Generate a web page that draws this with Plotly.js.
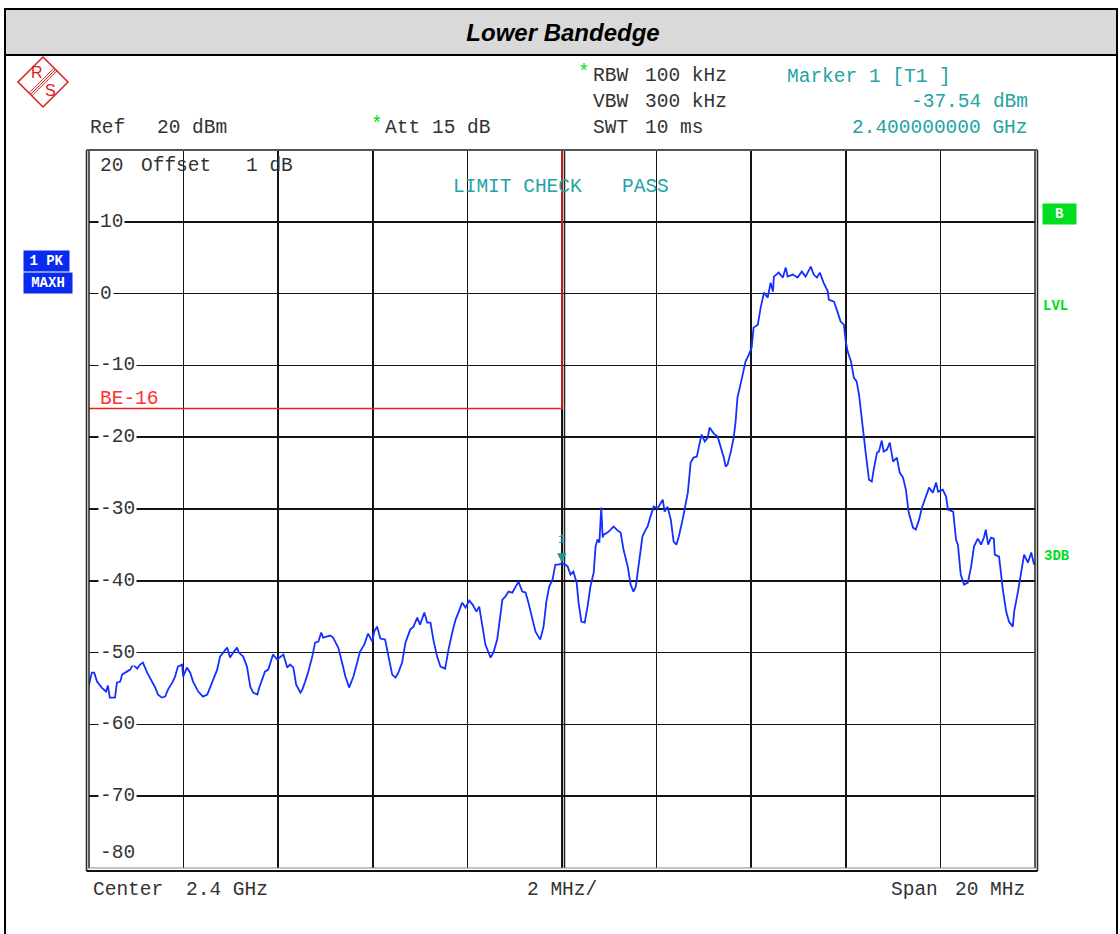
<!DOCTYPE html>
<html><head><meta charset="utf-8">
<script src="https://cdn.plot.ly/plotly-3.0.1.min.js"></script>
<style>html,body{margin:0;padding:0;background:#fff}#chart{width:1120px;height:934px}</style>
</head><body><div id="chart"></div>
<script>
const freqOffsetMHz = [
-10.00,-9.94,-9.89,-9.83,-9.73,-9.64,-9.60,-9.56,-9.45,-9.41,-9.34,-9.30,-9.20,-9.13,-9.07,-8.98,-8.92,-8.86,-8.77,-8.67,
-8.60,-8.54,-8.46,-8.39,-8.33,-8.24,-8.18,-8.12,-8.03,-8.01,-7.93,-7.86,-7.80,-7.69,-7.59,-7.50,-7.44,-7.38,-7.29,-7.23,
-7.16,-7.08,-7.06,-7.02,-6.95,-6.87,-6.83,-6.74,-6.66,-6.59,-6.53,-6.44,-6.40,-6.34,-6.28,-6.21,-6.15,-6.11,-6.02,-5.96,
-5.89,-5.81,-5.75,-5.68,-5.62,-5.53,-5.49,-5.43,-5.37,-5.28,-5.22,-5.15,-5.09,-5.05,-4.96,-4.90,-4.84,-4.73,-4.65,-4.58,
-4.50,-4.41,-4.33,-4.27,-4.18,-4.10,-4.01,-3.97,-3.91,-3.84,-3.74,-3.67,-3.59,-3.52,-3.46,-3.38,-3.31,-3.21,-3.14,-3.06,
-3.00,-2.91,-2.85,-2.78,-2.72,-2.64,-2.57,-2.47,-2.40,-2.32,-2.25,-2.19,-2.11,-2.04,-1.96,-1.89,-1.81,-1.75,-1.68,-1.62,
-1.51,-1.45,-1.37,-1.30,-1.26,-1.20,-1.13,-1.05,-0.98,-0.92,-0.84,-0.77,-0.71,-0.62,-0.56,-0.46,-0.39,-0.33,-0.27,-0.20,
-0.14,-0.07,0.00,0.07,0.12,0.18,0.24,0.31,0.35,0.41,0.48,0.54,0.60,0.67,0.71,0.75,0.79,0.83,0.86,0.88,
0.96,1.03,1.09,1.18,1.24,1.30,1.39,1.45,1.51,1.56,1.62,1.70,1.77,1.81,1.87,1.94,2.02,2.09,2.13,2.17,
2.23,2.30,2.36,2.42,2.47,2.55,2.61,2.66,2.72,2.78,2.85,2.89,2.95,3.02,3.08,3.12,3.21,3.29,3.33,3.42,
3.46,3.50,3.57,3.63,3.67,3.71,3.82,3.88,3.95,4.01,4.05,4.14,4.20,4.27,4.35,4.41,4.46,4.48,4.58,4.67,
4.73,4.77,4.88,4.98,5.07,5.15,5.26,5.32,5.39,5.45,5.53,5.62,5.64,5.75,5.83,5.89,5.96,6.00,6.04,6.11,
6.17,6.23,6.28,6.36,6.42,6.49,6.55,6.59,6.66,6.70,6.76,6.80,6.87,6.93,7.00,7.08,7.14,7.21,7.27,7.33,
7.42,7.48,7.55,7.61,7.67,7.76,7.84,7.91,7.95,8.05,8.12,8.16,8.27,8.33,8.37,8.43,8.50,8.58,8.65,8.71,
8.79,8.86,8.92,8.96,9.01,9.07,9.13,9.15,9.24,9.32,9.39,9.45,9.53,9.56,9.64,9.70,9.77,9.85,9.92,9.98,
10.00];
const levelDbm = [
-54.46,-52.79,-52.79,-54.04,-54.87,-55.43,-54.60,-56.27,-56.27,-54.18,-54.04,-53.06,-52.65,-52.37,-51.67,-52.23,-51.67,-51.39,-52.79,-54.04,
-54.87,-55.85,-56.27,-56.13,-55.15,-54.18,-53.34,-51.95,-51.67,-53.34,-52.09,-52.79,-54.04,-55.43,-56.13,-55.85,-54.87,-53.76,-52.37,-50.56,
-50.00,-49.30,-49.72,-50.70,-50.00,-49.30,-50.00,-50.56,-51.95,-54.74,-55.57,-55.85,-54.87,-53.76,-52.65,-52.37,-51.25,-50.28,-50.97,-50.70,
-50.28,-52.09,-51.67,-52.09,-54.46,-55.57,-55.15,-54.04,-52.79,-50.56,-48.61,-48.47,-47.21,-47.91,-47.77,-47.63,-47.91,-49.30,-51.39,-53.34,
-54.87,-53.34,-51.39,-49.86,-48.89,-47.35,-48.47,-47.08,-46.38,-48.05,-48.19,-50.70,-53.06,-53.48,-52.79,-51.39,-48.61,-46.80,-46.38,-45.13,
-46.10,-44.43,-45.82,-45.82,-48.19,-50.56,-51.95,-52.23,-49.58,-47.21,-45.40,-44.43,-43.04,-43.73,-42.76,-43.31,-44.29,-43.59,-46.38,-48.89,
-50.70,-50.00,-48.19,-44.43,-42.62,-42.20,-41.50,-41.64,-40.81,-40.11,-41.50,-41.64,-43.04,-45.40,-47.08,-48.19,-46.38,-42.90,-40.81,-39.83,
-37.74,-37.74,-37.54,-37.74,-38.02,-39.14,-38.72,-40.25,-43.04,-45.68,-45.82,-43.59,-40.81,-38.86,-35.24,-34.26,-34.68,-29.81,-33.98,-33.57,
-33.29,-32.87,-32.45,-33.01,-33.29,-35.65,-38.02,-40.53,-41.50,-40.81,-38.02,-33.84,-32.87,-32.45,-31.06,-29.67,-29.94,-29.11,-28.69,-30.36,
-29.67,-31.48,-34.54,-34.96,-33.84,-31.48,-29.67,-27.72,-23.54,-22.84,-22.70,-21.31,-19.64,-20.61,-20.06,-18.66,-19.50,-19.92,-20.75,-22.84,
-24.09,-23.82,-22.01,-20.06,-17.83,-14.48,-11.28,-9.47,-8.50,-7.52,-4.74,-4.32,-1.95,0.14,-0.56,1.53,0.28,2.37,2.92,2.23,
3.62,2.37,2.65,2.23,3.06,2.37,3.76,2.65,2.23,2.92,1.53,0.28,-0.84,-1.11,-2.65,-3.90,-4.32,-6.69,-8.08,-9.47,
-11.70,-12.26,-14.07,-18.25,-22.14,-25.91,-26.18,-24.51,-22.14,-22.01,-20.47,-22.01,-21.73,-20.75,-23.40,-22.84,-24.93,-25.63,-27.30,-30.50,
-32.59,-32.87,-31.48,-29.81,-28.69,-27.02,-27.72,-26.32,-27.58,-27.30,-28.27,-30.08,-30.36,-34.26,-34.96,-39.14,-40.53,-40.25,-38.02,-35.24,
-34.12,-34.96,-33.98,-32.87,-34.96,-33.98,-34.12,-36.35,-36.63,-41.23,-44.29,-45.68,-46.38,-44.29,-41.50,-38.86,-36.35,-37.47,-36.07,-37.74,
-37.40];

// Limit line BE-16
const limitFreqMHz = [-10, 0, 0];
const limitLevelDb = [-16, -16, 20];
// Marker 1
const markerFreqMHz = 0;
const markerLevelDbm = -37.54;
// Y tick labels (drawn inside the grid)
const yTickValues = [10, 0, -10, -20, -30, -40, -50, -60, -70];
const yTickLabels = ['10', '0', '-10', '-20', '-30', '-40', '-50', '-60', '-70'];

const W = 1120, H = 934, L = 89, R = 85, T = 150, B = 66;
const PW = W - L - R, PH = H - T - B;
const px = x => (x - L) / PW;
const py = y => (H - B - y) / PH;

const MONO = 'Liberation Mono, Courier New, monospace';
const FS = 19.5;
const TEXTC = '#333333';
const TEAL = '#22a4a4';
const GREEN = '#00dd22';
const BLUE = '#0a2af0';
const RED = '#d81e1e';

const ann = [];
function txt(text, x, y, o) {
  o = o || {};
  ann.push(Object.assign({
    text: text, xref: 'paper', yref: 'paper', x: px(x), y: py(y),
    xanchor: 'left', yanchor: 'middle', showarrow: false, xshift: -2,
    font: {family: MONO, size: FS, color: TEXTC}
  }, o));
}
// header
txt('Ref', 90, 128);
txt('20 dBm', 157, 128);
txt('*', 371, 125, {font: {family: MONO, size: FS, color: GREEN}});
txt('Att', 385, 128);
txt('15 dB', 432, 128);
txt('*', 578, 73, {font: {family: MONO, size: FS, color: GREEN}});
txt('RBW', 593, 76);
txt('100 kHz', 645, 76);
txt('VBW', 593, 102);
txt('300 kHz', 645, 102);
txt('SWT', 593, 128);
txt('10 ms', 645, 128);
txt('Marker 1 [T1 ]', 787, 77, {font: {family: MONO, size: FS, color: TEAL}});
txt('-37.54 dBm', 1029, 102, {xanchor: 'right', xshift: 1, font: {family: MONO, size: FS, color: TEAL}});
txt('2.400000000 GHz', 1029, 128, {xanchor: 'right', xshift: 1, font: {family: MONO, size: FS, color: TEAL}});
// inside grid
txt('20', 100, 166);
txt('Offset', 141, 166);
txt('1 dB', 246, 166);
txt('LIMIT CHECK', 453, 187, {font: {family: MONO, size: FS, color: TEAL}});
txt('PASS', 622, 187, {font: {family: MONO, size: FS, color: TEAL}});
txt('BE-16', 100, 399, {font: {family: MONO, size: FS, color: '#ff3030'}});
yTickValues.forEach((v, i) => {
  ann.push({text: yTickLabels[i], xref: 'paper', yref: 'y', x: px(98), y: v,
    xanchor: 'left', yanchor: 'middle', showarrow: false, bgcolor: '#ffffff', borderpad: 1,
    font: {family: MONO, size: FS, color: TEXTC}});
});
txt('-80', 100, 853);
// bottom
txt('Center', 93, 890);
txt('2.4 GHz', 186, 890);
txt('2 MHz/', 527, 890);
txt('Span', 891, 890);
txt('20 MHz', 955, 890);
// side boxes
const boxFont = {family: MONO, size: 14, color: '#ffffff', weight: 'bold'};
txt('<b>1 PK</b>', 23, 261, {xshift: 0, bgcolor: BLUE, width: 45, height: 20, align: 'center', borderpad: 0, font: boxFont});
txt('<b>MAXH</b>', 23, 283, {xshift: 0, bgcolor: BLUE, width: 48, height: 20, align: 'center', borderpad: 0, font: boxFont});
txt('<b>B</b>', 1042, 214, {xshift: 0, bgcolor: GREEN, width: 33, height: 20, align: 'center', borderpad: 0, font: boxFont});
txt('<b>LVL</b>', 1043, 306, {font: {family: MONO, size: 14, color: GREEN}});
txt('<b>3DB</b>', 1044, 556, {font: {family: MONO, size: 14, color: GREEN}});
// logo letters
txt('R', 37, 72, {xshift: 0, xanchor: 'center', font: {family: 'Liberation Sans, Arial', size: 16, color: RED}});
txt('S', 50, 91, {xshift: 0, xanchor: 'center', font: {family: 'Liberation Sans, Arial', size: 16, color: RED}});
// marker 1
ann.push({text: '▼', x: markerFreqMHz, y: markerLevelDbm, xref: 'x', yref: 'y', showarrow: false,
  yanchor: 'bottom', yshift: -3, font: {family: 'DejaVu Sans', size: 12, color: '#1a9494'}});
ann.push({text: '1', x: markerFreqMHz, y: markerLevelDbm, xref: 'x', yref: 'y', showarrow: false,
  yanchor: 'bottom', yshift: 14, font: {family: MONO, size: 13, color: '#1a9494'}});

const shapes = [];
function line(x0, y0, x1, y1, color, width, layer) {
  shapes.push({type: 'line', xref: 'paper', yref: 'paper', x0: px(x0), y0: py(y0), x1: px(x1), y1: py(y1),
    line: {color: color, width: width}, layer: layer || 'above'});
}
// title bar & outer frame
shapes.push({type: 'rect', xref: 'paper', yref: 'paper', x0: px(5), x1: px(1117), y0: py(9), y1: py(55),
  fillcolor: '#d9d9d9', line: {color: '#000', width: 2}, layer: 'below'});
line(5, 9, 5, 934, '#000', 2);
line(1117, 9, 1117, 934, '#000', 2);
// plot frame (double lines)
line(86.5, 150, 86.5, 871, '#222', 1.5);
line(89, 150, 89, 868, '#222', 1.5);
line(1035, 150, 1035, 868, '#222', 1.5);
line(1037.5, 150, 1037.5, 871, '#222', 1.5);
line(86.5, 868, 1037.5, 868, '#888', 1.2);
line(86.5, 871, 1037.5, 871, '#111', 2);
line(86.5, 150, 1037.5, 150, '#555', 2);
line(564.5, 150, 564.5, 868, '#222', 1.5, 'below');
// logo
shapes.push({type: 'path', xref: 'paper', yref: 'paper',
  path: `M ${px(43)},${py(57)} L ${px(68)},${py(82)} L ${px(43)},${py(107)} L ${px(18)},${py(82)} Z`,
  line: {color: RED, width: 1.5}, layer: 'above'});
line(54.1, 68.1, 29.1, 93.1, RED, 1);
line(55.5, 69.5, 30.5, 94.5, RED, 1);
line(56.9, 70.9, 31.9, 95.9, RED, 1);

const traces = [
  {x: limitFreqMHz, y: limitLevelDb, type: 'scatter', mode: 'lines',
   line: {color: '#ee2020', width: 1.6}, hoverinfo: 'skip'},
  {x: freqOffsetMHz, y: levelDbm, type: 'scatter', mode: 'lines',
   line: {color: '#1430ff', width: 1.8}, name: '1 PK MAXH'}
];

const axisCommon = {showgrid: true, gridcolor: '#141414', gridwidth: 1.7, zeroline: false,
  showticklabels: false, showline: false, ticks: '', fixedrange: true};

const layout = {
  width: W, height: H,
  margin: {l: L, r: R, t: T, b: B, pad: 0},
  paper_bgcolor: '#ffffff', plot_bgcolor: '#ffffff',
  showlegend: false,
  title: {text: '<b><i>Lower Bandedge</i></b>', font: {family: 'Liberation Sans, Arial', size: 24, color: '#000'},
    x: 563 / W, xref: 'container', xanchor: 'center', y: 1 - 33 / H, yref: 'container', yanchor: 'middle'},
  xaxis: Object.assign({range: [-10, 10], tick0: -10, dtick: 2}, axisCommon),
  yaxis: Object.assign({range: [-80, 20], tick0: -80, dtick: 10}, axisCommon),
  annotations: ann,
  shapes: shapes
};

Plotly.newPlot('chart', traces, layout, {displayModeBar: false, staticPlot: true});
</script>
</body></html>
